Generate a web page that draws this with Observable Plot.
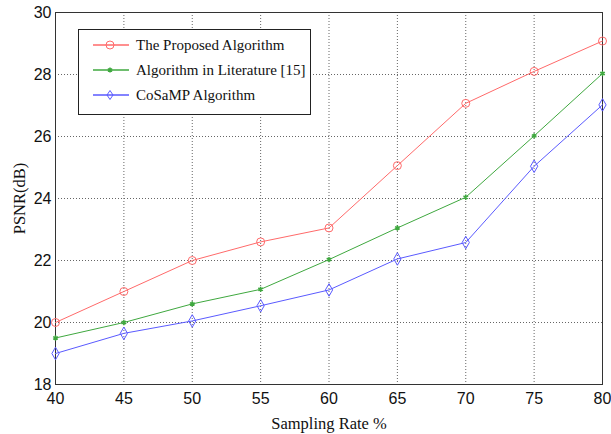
<!DOCTYPE html>
<html><head><meta charset="utf-8">
<script src="https://cdn.jsdelivr.net/npm/d3@7"></script>
<script src="https://cdn.jsdelivr.net/npm/@observablehq/plot@0.6"></script>
<style>
body{margin:0;background:#fff;}
#wrap{position:relative;width:611px;height:434px;}
#legend{position:absolute;left:78px;top:29px;width:233px;height:86px;border:1px solid #222;background:#fff;box-sizing:border-box;font-family:"Liberation Serif","Times New Roman",serif;font-size:15px;color:#111;}
#legend .row{position:absolute;left:12px;height:20px;display:flex;align-items:center;}
#legend svg{margin-right:5px;}
g[aria-label="x-axis label"] text, g[aria-label="y-axis label"] text{font-family:"Liberation Serif","Times New Roman",serif;font-size:16.5px;fill:#111;}
</style></head>
<body><div id="wrap"><div id="chart"></div><div id="legend"></div></div>
<script>
const rates = [40,45,50,55,60,65,70,75,80];
const proposed = [20.0,21.0,22.0,22.6,23.05,25.06,27.07,28.1,29.08];
const literature = [19.5,20.0,20.6,21.07,22.03,23.05,24.04,26.02,28.03];
const cosamp = [19.0,19.65,20.05,20.54,21.05,22.05,22.58,25.04,27.02];
const seriesNames = ["The Proposed Algorithm","Algorithm in Literature [15]","CoSaMP Algorithm"];
const colors = ["#ff6a6a","#3fa83f","#5a5aff"];
const xTicks = [40,45,50,55,60,65,70,75,80];
const yTicks = [18,20,22,24,26,28,30];

const mk = (vals) => rates.map((r,i)=>({x:r,y:vals[i]}));
const d0 = mk(proposed), d1 = mk(literature), d2 = mk(cosamp);

const chart = Plot.plot({
  width:611, height:434,
  marginLeft:55, marginRight:9, marginTop:12, marginBottom:50,
  style:{fontFamily:"'Liberation Sans',Arial,sans-serif", fontSize:"16px", color:"#111", background:"#fff"},
  x:{domain:[40,80]},
  y:{domain:[18,30]},
  marks:[
    Plot.gridX(xTicks,{stroke:"#555",strokeOpacity:0.9,strokeDasharray:"1,2"}),
    Plot.gridY(yTicks,{stroke:"#555",strokeOpacity:0.9,strokeDasharray:"1,2"}),
    Plot.frame({stroke:"#333"}),
    Plot.axisX(xTicks,{tickSize:0,tickPadding:8,label:"Sampling Rate %",labelAnchor:"center",labelArrow:"none",labelOffset:44}),
    Plot.axisY(yTicks,{tickSize:0,tickPadding:4,label:"PSNR(dB)",labelAnchor:"center",labelArrow:"none",labelOffset:42}),
    Plot.line(d0,{x:"x",y:"y",stroke:colors[0],strokeWidth:1}),
    Plot.line(d1,{x:"x",y:"y",stroke:colors[1],strokeWidth:1}),
    Plot.line(d2,{x:"x",y:"y",stroke:colors[2],strokeWidth:1}),
    Plot.dot(d0,{x:"x",y:"y",symbol:"circle",r:4,stroke:colors[0],fill:"none",strokeWidth:1}),
    Plot.dot(d1,{x:"x",y:"y",symbol:"asterisk",r:2.5,stroke:colors[1],strokeWidth:1.5}),
    Plot.dot(d2,{x:"x",y:"y",symbol:"diamond",r:3.8,stroke:colors[2],fill:"none",strokeWidth:1})
  ]
});
document.getElementById("chart").appendChild(chart);

const syms = [
  c=>`<circle cx="19" cy="7" r="4" fill="none" stroke="${c}"/>`,
  c=>`<path d="M19,4.5V9.5M16.8,5.7L21.2,8.3M16.8,8.3L21.2,5.7" stroke="${c}" stroke-width="1.5"/>`,
  c=>`<path d="M19,2.5L22,7L19,11.5L16,7Z" fill="none" stroke="${c}"/>`
];
const lg = document.getElementById("legend");
const tops = [5,30,55];
seriesNames.forEach((n,i)=>{
  const row = document.createElement("div");
  row.className="row"; row.style.top = tops[i]+"px";
  row.innerHTML = `<svg width="40" height="14"><line x1="2" x2="38" y1="7" y2="7" stroke="${colors[i]}" stroke-width="1.3"/>${syms[i](colors[i])}</svg><span>${n}</span>`;
  lg.appendChild(row);
});
</script></body></html>
